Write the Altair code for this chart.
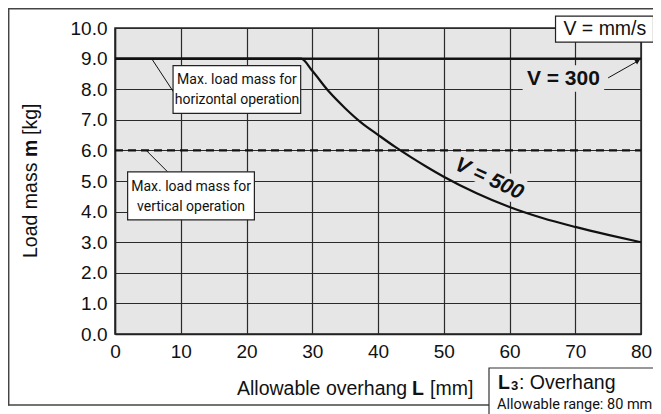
import altair as alt
import pandas as pd

# ---- data ----
L_500 = [0, 10, 20, 28.3, 30, 32.5, 35, 37.5, 40, 42.5, 45, 47.5, 50, 55, 60, 65, 70, 75, 80]
m_500 = [9.0, 9.0, 9.0, 9.0, 8.6, 7.93, 7.38, 6.9, 6.51, 6.13, 5.78, 5.45, 5.14, 4.6, 4.15, 3.79, 3.5, 3.24, 3.0]
L_300 = [0, 80]
m_300 = [9.0, 9.0]
L_vert = [0, 80]
m_vert = [6.0, 6.0]
x_ticks = [0, 10, 20, 30, 40, 50, 60, 70, 80]
y_ticks = [0.0, 1.0, 2.0, 3.0, 4.0, 5.0, 6.0, 7.0, 8.0, 9.0, 10.0]

FONT = "Liberation Sans, Arial, Helvetica, sans-serif"
NARROW = "Roboto, Liberation Sans, Arial, sans-serif"
BG = "#e6e6e6"
INK = "#111111"

xs = alt.Scale(domain=[0, 80], nice=False, zero=False)
ys = alt.Scale(domain=[0, 10], nice=False, zero=False)
XAX = alt.Axis(values=x_ticks, format="d", title=None, labelPadding=8, labelFlush=False)
YAX = alt.Axis(values=y_ticks, format=".1f", title=None, labelPadding=8, labelFlush=False)


def X(f):
    return alt.X(f, scale=xs, axis=XAX)


def Y(f):
    return alt.Y(f, scale=ys, axis=YAX)


W, H = 526, 306

df500 = pd.DataFrame({"L": L_500, "m": m_500})
df300 = pd.DataFrame({"L": L_300, "m": m_300})
dfv = pd.DataFrame({"L": L_vert, "m": m_vert})

base = alt.Chart(df300).mark_line(color=INK, strokeWidth=2.4).encode(x=X("L:Q"), y=Y("m:Q"))

# background patch behind "V = 300"
bg300 = alt.Chart(pd.DataFrame({"x": [62.0], "x2": [74.4], "y": [7.92], "y2": [8.78]})).mark_rect(
    fill=BG
).encode(x=X("x:Q"), x2="x2:Q", y=Y("y:Q"), y2="y2:Q")

lab500_df = pd.DataFrame({"L": [56.9], "m": [5.07], "t": ["V = 500"]})
halo500 = alt.Chart(lab500_df).mark_text(
    font=FONT, fontSize=21, fontWeight="bold", fontStyle="italic", angle=25,
    stroke=BG, strokeWidth=11, strokeJoin="round", fill=BG, align="center", baseline="middle"
).encode(x=X("L:Q"), y=Y("m:Q"), text="t:N")

line500 = alt.Chart(df500).mark_line(color=INK, strokeWidth=2.2, interpolate="monotone").encode(
    x=X("L:Q"), y=Y("m:Q"))

linev = alt.Chart(dfv).mark_line(color=INK, strokeWidth=2.4, strokeDash=[8, 5]).encode(
    x=X("L:Q"), y=Y("m:Q"))

text500 = alt.Chart(lab500_df).mark_text(
    font=FONT, fontSize=21, fontWeight="bold", fontStyle="italic", angle=25,
    color=INK, align="center", baseline="middle"
).encode(x=X("L:Q"), y=Y("m:Q"), text="t:N")

text300 = alt.Chart(pd.DataFrame({"L": [68.2], "m": [8.32], "t": ["V = 300"]})).mark_text(
    font=FONT, fontSize=21, fontWeight="bold", color=INK, align="center", baseline="middle"
).encode(x=X("L:Q"), y=Y("m:Q"), text="t:N")

# leader lines
leaders = alt.Chart(pd.DataFrame({
    "x": [5.6, 4.84, 75.0], "y": [8.99, 5.98, 8.37],
    "x2": [8.9, 8.0, 79.6], "y2": [7.91, 5.30, 8.93]})).mark_rule(color=INK, strokeWidth=1).encode(
    x=X("x:Q"), y=Y("y:Q"), x2="x2:Q", y2="y2:Q")

arrow = alt.Chart(pd.DataFrame({"x": [79.5], "y": [8.92]})).mark_point(
    shape="triangle-right", filled=True, color=INK, size=28, angle=330, opacity=1
).encode(x=X("x:Q"), y=Y("y:Q"))

# annotation boxes (data coords)
boxes = alt.Chart(pd.DataFrame({
    "x": [8.83, 1.92, 67.0], "x2": [28.24, 21.2, 81.9],
    "y": [8.77, 5.30, 10.39], "y2": [7.21, 3.73, 9.54]})).mark_rect(
    fill="white", stroke="#222", strokeWidth=1.2
).encode(x=X("x:Q"), x2="x2:Q", y=Y("y:Q"), y2="y2:Q")

hbox_text = alt.Chart(pd.DataFrame({"L": [18.55], "m": [8.30]})).mark_text(
    text=["Max. load mass for", "horizontal operation"], font=NARROW, fontSize=14,
    lineHeight=20, color=INK, align="center", baseline="middle"
).encode(x=X("L:Q"), y=Y("m:Q"))

vbox_text = alt.Chart(pd.DataFrame({"L": [11.57], "m": [4.82]})).mark_text(
    text=["Max. load mass for", "vertical operation"], font=NARROW, fontSize=14,
    lineHeight=20, color=INK, align="center", baseline="middle"
).encode(x=X("L:Q"), y=Y("m:Q"))

unit_text = alt.Chart(pd.DataFrame({"L": [74.5], "m": [9.965]})).mark_text(
    text="V = mm/s", font=FONT, fontSize=19.5, color=INK, align="center", baseline="middle"
).encode(x=X("L:Q"), y=Y("m:Q"))

# ---- outside the plot: frame, axis titles, L3 note (pixel positions relative to plot) ----
frame_col = "#444444"
frame = [
    alt.Chart().mark_rule(color=frame_col, strokeWidth=1.5).encode(
        x=alt.value(-106.3), y=alt.value(-19.3), y2=alt.value(377.5)),
    alt.Chart().mark_rule(color=frame_col, strokeWidth=1.5).encode(
        x=alt.value(-107), x2=alt.value(560), y=alt.value(-19.3)),
    alt.Chart().mark_rule(color=frame_col, strokeWidth=1.5).encode(
        x=alt.value(-107), x2=alt.value(560), y=alt.value(377)),
]

note_box = alt.Chart().mark_rect(fill="white", stroke="#333", strokeWidth=1.2).encode(
    x=alt.value(374), x2=alt.value(540), y=alt.value(340), y2=alt.value(400))


def txt(s, x, y, size=19.5, weight="normal", font=FONT, align="left", angle=0, baseline="alphabetic"):
    return alt.Chart().mark_text(
        text=s, font=font, fontSize=size, fontWeight=weight, color=INK,
        align=align, baseline=baseline, angle=angle
    ).encode(x=alt.value(x), y=alt.value(y))


xt = [
    txt("Allowable overhang", 122, 367),
    txt("L", 297, 367, weight="bold"),
    txt("[mm]", 315, 367),
]
yt = [
    txt("Load mass", -84, 230, angle=270, baseline="middle"),
    txt("m", -84, 129, angle=270, baseline="middle", weight="bold"),
    txt("[kg]", -84, 107, angle=270, baseline="middle"),
]
note = [
    txt("L", 383, 361, weight="bold"),
    txt("3", 396, 362, size=13, weight="bold"),
    txt(": Overhang", 404, 361),
    txt("Allowable range: 80 mm", 382, 381, size=14.5, font=NARROW),
]

chart = alt.layer(
    base, bg300, halo500, line500, linev, text500, text300, leaders, arrow,
    boxes, hbox_text, vbox_text, unit_text,
    *frame, note_box, *xt, *yt, *note
).properties(
    width=W, height=H,
    background="white",
    autosize=alt.AutoSizeParams(type="none"),
    padding={"left": 107, "top": 20, "right": 12, "bottom": 80},
).configure_view(
    fill=BG, stroke="#222", strokeWidth=1.5
).configure_axis(
    grid=True, gridColor="#2a2a2a", gridWidth=1.2, gridOpacity=1,
    domainColor="#222", domainWidth=1.5, ticks=False,
    labelFont=FONT, labelFontSize=19, labelColor=INK,
)

chart.save("out.html", embed_options={"renderer": "svg", "actions": False})
